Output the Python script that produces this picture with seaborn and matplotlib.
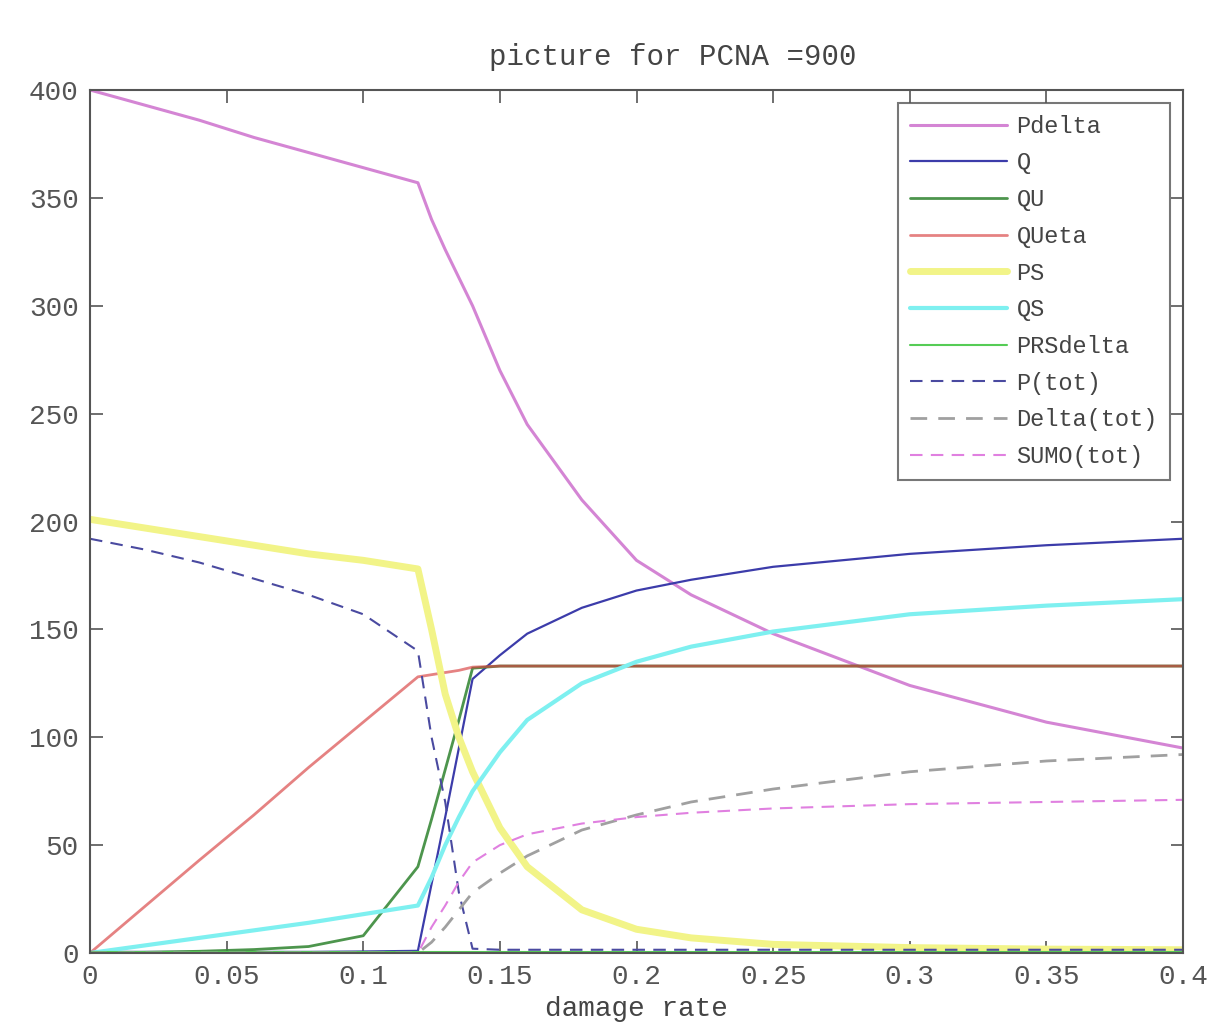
import numpy as np
import pandas as pd
import matplotlib
matplotlib.use("Agg")
import matplotlib.pyplot as plt
import seaborn as sns

sns.set_style("ticks")
plt.rcParams['font.family'] = ['Liberation Mono', 'DejaVu Sans Mono']

# ---- data ----
rate = [0, 0.02, 0.04, 0.06, 0.08, 0.10, 0.12, 0.125, 0.13, 0.135, 0.14,
        0.15, 0.16, 0.18, 0.20, 0.22, 0.25, 0.30, 0.35, 0.40]

pdelta = [400, 393, 386, 378, 371, 364, 357, 340, 326, 313, 300,
          270, 245, 210, 182, 166, 148, 124, 107, 95]
q = [0.5, 0.5, 0.5, 0.5, 0.5, 0.7, 1, 32, 63, 95, 127,
     138, 148, 160, 168, 173, 179, 185, 189, 192]
qu = [0, 0.3, 0.8, 1.6, 3, 8, 40, 62, 85, 108, 132,
      133, 133, 133, 133, 133, 133, 133, 133, 133]
queta = [0, 21.5, 43, 64, 86, 107, 128, 129, 130, 131, 132.5,
         133, 133, 133, 133, 133, 133, 133, 133, 133]
ps = [201, 197, 193, 189, 185, 182, 178, 150, 120, 100, 84,
      58, 40, 20, 11, 7, 4, 2.5, 1.8, 1.5]
qs = [0, 3.5, 7, 10.5, 14, 18, 22, 35, 50, 63, 75,
      93, 108, 125, 135, 142, 149, 157, 161, 164]
prsdelta = [0.3, 0.3, 0.3, 0.3, 0.3, 0.3, 0.3, 0.3, 0.3, 0.3, 0.3,
            0.3, 0.3, 0.3, 0.3, 0.3, 0.3, 0.3, 0.3, 0.3]
p_tot = [192, 187, 181, 173.5, 166, 157, 140, 100, 70, 28, 2,
         1.5, 1.5, 1.5, 1.5, 1.5, 1.5, 1.5, 1.5, 1.5]
delta_tot = [0, 0, 0, 0, 0, 0, 0, 5, 12, 20, 28,
             37, 45, 57, 64, 70, 76, 84, 89, 92]
sumo_tot = [0, 0, 0, 0, 0, 0, 0, 12, 22, 33, 42,
            50, 55, 60, 63, 65, 67, 69, 70, 71]

df = pd.DataFrame({"rate": rate, "Pdelta": pdelta, "Q": q, "QU": qu,
                   "QUeta": queta, "PS": ps, "QS": qs, "PRSdelta": prsdelta,
                   "P(tot)": p_tot, "Delta(tot)": delta_tot,
                   "SUMO(tot)": sumo_tot})

# name, colour, width, dashed, alpha
styles = [
    ("Pdelta", "#d485d4", 2.2, False, 1.0),
    ("Q", "#3c3caa", 1.6, False, 1.0),
    ("QU", "#3a8a3a", 2.0, False, 0.9),
    ("QUeta", "#d84040", 2.0, False, 0.65),
    ("PS", "#f2f488", 5.0, False, 1.0),
    ("QS", "#7ef0f0", 3.0, False, 1.0),
    ("PRSdelta", "#55cc55", 1.5, False, 1.0),
    ("P(tot)", "#4a4aa0", 1.5, True, 1.0),
    ("Delta(tot)", "#a0a0a0", 2.0, True, 1.0),
    ("SUMO(tot)", "#e080e0", 1.5, True, 1.0),
]

fig = plt.figure(figsize=(12.09, 10.27), dpi=100)
ax = fig.add_axes([90 / 1209, 1 - 953 / 1027, 1093 / 1209, 863 / 1027])

for name, col, lw, dashed, a in styles:
    ls = (0, (6, 4)) if dashed else "-"
    sns.lineplot(data=df, x="rate", y=name, ax=ax, color=col, linewidth=lw,
                 linestyle=ls, alpha=a, label=name)

ax.set_xlim(0, 0.4)
ax.set_ylim(0, 400)
ax.set_xticks([0, 0.05, 0.1, 0.15, 0.2, 0.25, 0.3, 0.35, 0.4])
ax.set_xticklabels(["0", "0.05", "0.1", "0.15", "0.2", "0.25", "0.3", "0.35", "0.4"])
ax.set_yticks(range(0, 401, 50))
ax.tick_params(direction="in", length=9, width=1.2, top=True, right=True,
               labelsize=20, colors="#555555", pad=8)
for sp in ax.spines.values():
    sp.set_visible(True)
    sp.set_color("#555555")
    sp.set_linewidth(1.5)

ax.set_xlabel("damage rate", fontsize=20, color="#444444", labelpad=4)
ax.set_ylabel("")
ax.set_title("picture for PCNA =900", fontsize=21, color="#444444", x=0.533, pad=18)

leg = ax.legend(loc="upper left", bbox_to_anchor=(898 / 1209, 1 - 103 / 1027),
                bbox_transform=fig.transFigure, fontsize=17, frameon=True,
                fancybox=False, handlelength=4.1, handletextpad=0.42,
                labelspacing=0.58, borderpad=0.5, borderaxespad=0)
leg.get_frame().set_edgecolor("#555555")
leg.get_frame().set_linewidth(1.5)
for t in leg.get_texts():
    t.set_color("#444444")

fig.savefig("out.png", dpi=100)
